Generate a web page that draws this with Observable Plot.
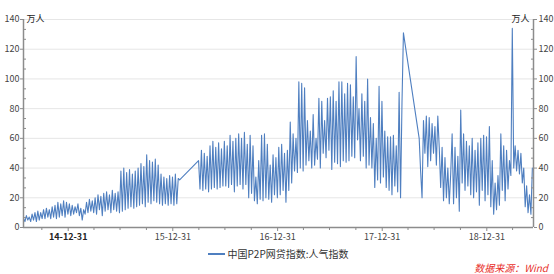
<!DOCTYPE html>
<html><head><meta charset="utf-8">
<script src="https://cdn.jsdelivr.net/npm/d3@7"></script>
<script src="https://cdn.jsdelivr.net/npm/@observablehq/plot@0.6"></script>
<style>
body{margin:0;background:#fff;font-family:"Noto Sans CJK SC","Noto Sans",sans-serif;}
#wrap{position:relative;width:554px;height:274px;overflow:hidden;}
#legend{position:absolute;left:0;width:554px;top:247px;height:14px;display:flex;justify-content:center;align-items:center;padding-left:2px;box-sizing:border-box;}
#legend .sw{display:inline-block;width:17px;height:0;border-top:2px solid #4f7fc0;margin-right:3px;}
#legend .lb{font-size:10px;color:#333;line-height:14px;}
#src{position:absolute;right:6px;top:261px;font-size:10px;color:#e8302a;font-style:italic;line-height:14px;}
</style></head><body>
<div id="wrap"><div id="chart"></div>
<div id="legend"><span class="sw"></span><span class="lb" id="lgtext"></span></div>
<div id="src" id2="src"></div></div>
<script>
const seriesName = "中国P2P网贷指数:人气指数";
const unitLabel = "万人";
const sourceText = "数据来源：Wind";
const stepDays = 5;
const seg1Start = "2014-07-28";
const seg2Start = "2016-03-30";
const seg3Start = "2018-05-09";
const seg1 = [
 6,4,8,5,7,4,9,5,10,4,
 11,5,10,6,12,6,13,7,12,6,
 14,7,15,6,17,7,16,8,18,7,
 17,9,16,8,15,9,14,10,16,8,
 13,5,12,9,17,10,19,11,18,10,
 20,9,22,12,21,8,23,11,24,12,
 22,10,25,12,23,11,24,10,38,11,
 40,12,37,13,39,14,36,13,38,14,
 40,15,43,16,41,14,49,17,45,16,
 44,18,46,17,42,16,36,15,34,16,
 33,15,35,16,34,15,36,16,33,32];
const seg2 = [
 45,26,52,25,50,26,48,24,55,26,
 58,27,54,26,57,27,53,28,58,28,
 55,27,62,29,58,24,60,28,63,29,
 60,26,64,29,56,20,62,23,55,18,
 34,16,45,19,62,18,63,20,56,19,
 42,17,49,22,47,20,54,22,56,25,
 50,17,52,25,71,30,63,38,60,37,
 98,40,97,38,94,42,72,45,65,40,
 76,42,60,46,87,40,85,50,72,47,
 87,52,88,39,92,44,85,43,98,41,
 98,45,90,44,97,45,96,48,88,47,
 115,59,80,45,90,48,85,40,100,42,
 74,40,70,27,60,32,95,30,85,34,
 65,27,61,25,61,22,62,28,55,24,
 91,20,84,131];
const seg3 = [
 60,38,20,72,50,75,41,74,45,70,
 50,68,42,75,54,27,54,18,47,20,
 40,16,36,63,16,54,20,48,11,79,
 30,63,25,58,28,55,22,60,20,52,
 24,57,15,60,25,62,18,61,22,68,
 14,45,9,30,12,35,15,63,25,55,
 18,52,26,45,35,134,40,55,38,52,
 36,50,30,40,14,28,10,22,9,40];
const xDomain = ["2014-07-28","2019-06-12"];
const yTicks = [0,20,40,60,80,100,120,140];
const xMajorTicks = ["2014-12-31","2015-12-31","2016-12-31","2017-12-31","2018-12-31"];
const xMinorTicks = ["2014-09-30","2015-03-31","2015-06-30","2015-09-30","2016-03-31","2016-06-30","2016-09-30","2017-03-31","2017-06-30","2017-09-30","2018-03-31","2018-06-30","2018-09-30","2019-03-31"];

const parse = s => new Date(s + "T00:00:00Z");
function build(start, vals){ const s = parse(start); return vals.map((v,i)=>({date: d3.utcDay.offset(s, i*stepDays), value: v})); }
const data = [...build(seg1Start, seg1), ...build(seg2Start, seg2), ...build(seg3Start, seg3)];
const yMinor = d3.range(0, 140, 20/3).filter(v => !yTicks.some(t => Math.abs(t - v) < 0.01));
const fmt = d3.utcFormat("%y-%m-%d");
const axisColor = "#8c8c8c";
const labelColor = "#444";

const chart = Plot.plot({
  width: 554, height: 248,
  marginLeft: 23, marginRight: 21, marginTop: 19, marginBottom: 21,
  style: {fontFamily: '"Noto Sans CJK SC","Noto Sans",sans-serif', fontSize: "9px", color: labelColor, background: "#fff"},
  x: {type: "utc", domain: xDomain.map(parse)},
  y: {domain: [0, 140]},
  marks: [
    Plot.gridY(yTicks.slice(1), {stroke: "#e6e6e6", strokeOpacity: 1}),
    Plot.line(data, {x: "date", y: "value", stroke: "#4f7fc0", strokeWidth: 1.1}),
    Plot.ruleX([parse(xDomain[0])], {stroke: axisColor, strokeWidth: 1.5}),
    Plot.ruleX([parse(xDomain[1])], {stroke: axisColor, strokeWidth: 1.5}),
    Plot.ruleY([0], {stroke: axisColor, strokeWidth: 1.5}),
    Plot.axisY({anchor: "left", ticks: yTicks, tickSize: 3, tickPadding: 1, stroke: axisColor, label: null, fill: labelColor}),
    Plot.axisY({anchor: "right", ticks: yTicks, tickSize: 3, tickPadding: 2, stroke: axisColor, label: null, fill: labelColor}),
    Plot.axisY({anchor: "left", ticks: yMinor, tickSize: -3, text: null, stroke: axisColor, label: null}),
    Plot.axisY({anchor: "right", ticks: yMinor, tickSize: -3, text: null, stroke: axisColor, label: null}),
    Plot.axisX({ticks: xMajorTicks.slice(0,1).map(parse), tickFormat: fmt, tickSize: 4, tickPadding: 2, stroke: axisColor, fill: "#222", fontWeight: "bold", label: null}),
    Plot.axisX({ticks: xMajorTicks.slice(1).map(parse), tickFormat: fmt, tickSize: 4, tickPadding: 2, stroke: axisColor, fill: labelColor, label: null}),
    Plot.axisX({ticks: xMinorTicks.map(parse), tickSize: 3, text: null, stroke: axisColor, label: null}),
    Plot.text([unitLabel], {frameAnchor: "top-left", textAnchor: "start", lineAnchor: "middle", dx: 3, fill: "#222", fontSize: 9}),
    Plot.text([unitLabel], {frameAnchor: "top-right", textAnchor: "end", lineAnchor: "middle", dx: -4, fill: "#222", fontSize: 9})
  ]
});
document.getElementById("chart").appendChild(chart);
document.getElementById("lgtext").textContent = seriesName;
document.getElementById("src").textContent = sourceText;
</script>
</body></html>
